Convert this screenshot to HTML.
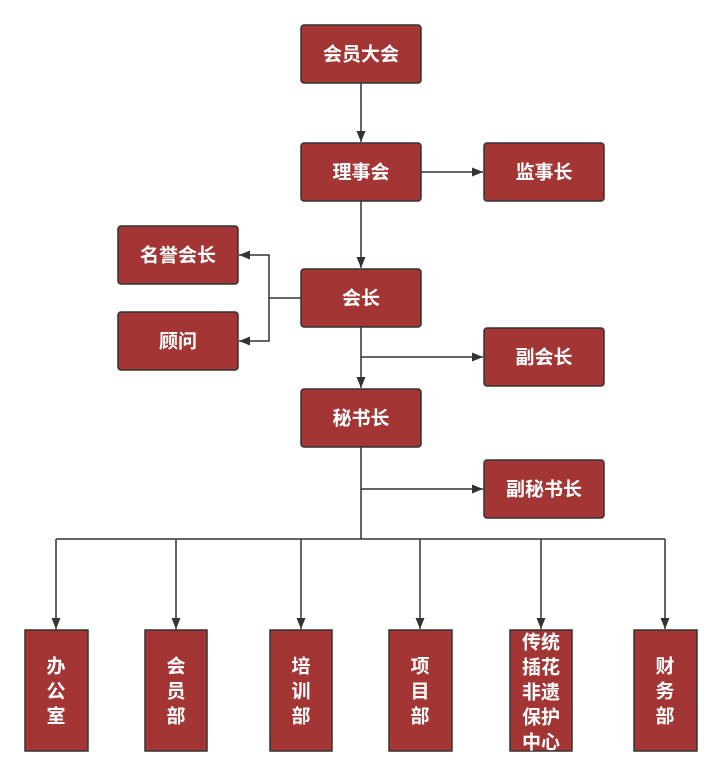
<!DOCTYPE html>
<html><head><meta charset="utf-8"><style>
html,body{margin:0;padding:0;background:#fff;}
svg{display:block;}
text{font-family:"Liberation Sans","Noto Sans CJK SC",sans-serif;font-weight:bold;font-size:19px;fill:#fff;text-anchor:middle;dominant-baseline:central;}
</style></head><body>
<svg width="722" height="778" viewBox="0 0 722 778" xmlns="http://www.w3.org/2000/svg">
<defs><marker id="a" markerWidth="12" markerHeight="12" refX="11" refY="6" orient="auto" markerUnits="userSpaceOnUse"><path d="M0,1.5 L11,6 L0,10.5 Z" fill="#333"/></marker></defs>
<g stroke="#333" stroke-width="1.5" fill="none">
<path d="M361,83 V142" marker-end="url(#a)"/>
<path d="M421,172 H483" marker-end="url(#a)"/>
<path d="M361,201 V268" marker-end="url(#a)"/>
<path d="M301,298 H269 V255 H239" marker-end="url(#a)"/>
<path d="M269,298 V341 H239" marker-end="url(#a)"/>
<path d="M361,327 V388" marker-end="url(#a)"/>
<path d="M361,357 H483" marker-end="url(#a)"/>
<path d="M361,447 V539"/>
<path d="M361,489 H483" marker-end="url(#a)"/>
<path d="M56,539 H665"/>
<path d="M56,539 V629" marker-end="url(#a)"/>
<path d="M176,539 V629" marker-end="url(#a)"/>
<path d="M301,539 V629" marker-end="url(#a)"/>
<path d="M420,539 V629" marker-end="url(#a)"/>
<path d="M541,539 V629" marker-end="url(#a)"/>
<path d="M665,539 V629" marker-end="url(#a)"/>
</g>
<g fill="#a33535" stroke="#333" stroke-width="1.5">
<rect x="301" y="25" width="120" height="58" rx="3"/>
<rect x="301" y="143" width="120" height="58" rx="3"/>
<rect x="484" y="143" width="120" height="58" rx="3"/>
<rect x="118" y="226" width="120" height="58" rx="3"/>
<rect x="301" y="269" width="120" height="58" rx="3"/>
<rect x="118" y="312" width="120" height="58" rx="3"/>
<rect x="484" y="328" width="120" height="58" rx="3"/>
<rect x="301" y="389" width="120" height="58" rx="3"/>
<rect x="484" y="460" width="120" height="58" rx="3"/>
<rect x="25" y="630" width="63" height="121"/>
<rect x="145" y="630" width="62" height="121"/>
<rect x="270" y="630" width="62" height="121"/>
<rect x="389" y="630" width="63" height="121"/>
<rect x="510" y="630" width="62" height="121"/>
<rect x="634" y="630" width="63" height="121"/>
</g>
<text x="361" y="55">会员大会</text>
<text x="361" y="173">理事会</text>
<text x="544" y="173">监事长</text>
<text x="178" y="256">名誉会长</text>
<text x="361" y="299">会长</text>
<text x="178" y="342">顾问</text>
<text x="544" y="358">副会长</text>
<text x="361" y="419">秘书长</text>
<text x="544" y="490">副秘书长</text>
<text x="56" y="667">办</text><text x="56" y="692">公</text><text x="56" y="717">室</text>
<text x="176" y="667">会</text><text x="176" y="692">员</text><text x="176" y="717">部</text>
<text x="301" y="667">培</text><text x="301" y="692">训</text><text x="301" y="717">部</text>
<text x="420" y="667">项</text><text x="420" y="692">目</text><text x="420" y="717">部</text>
<text x="541" y="643">传统</text><text x="541" y="668">插花</text><text x="541" y="693">非遗</text><text x="541" y="718">保护</text><text x="541" y="743">中心</text>
<text x="665" y="667">财</text><text x="665" y="692">务</text><text x="665" y="717">部</text>
</svg>
</body></html>
